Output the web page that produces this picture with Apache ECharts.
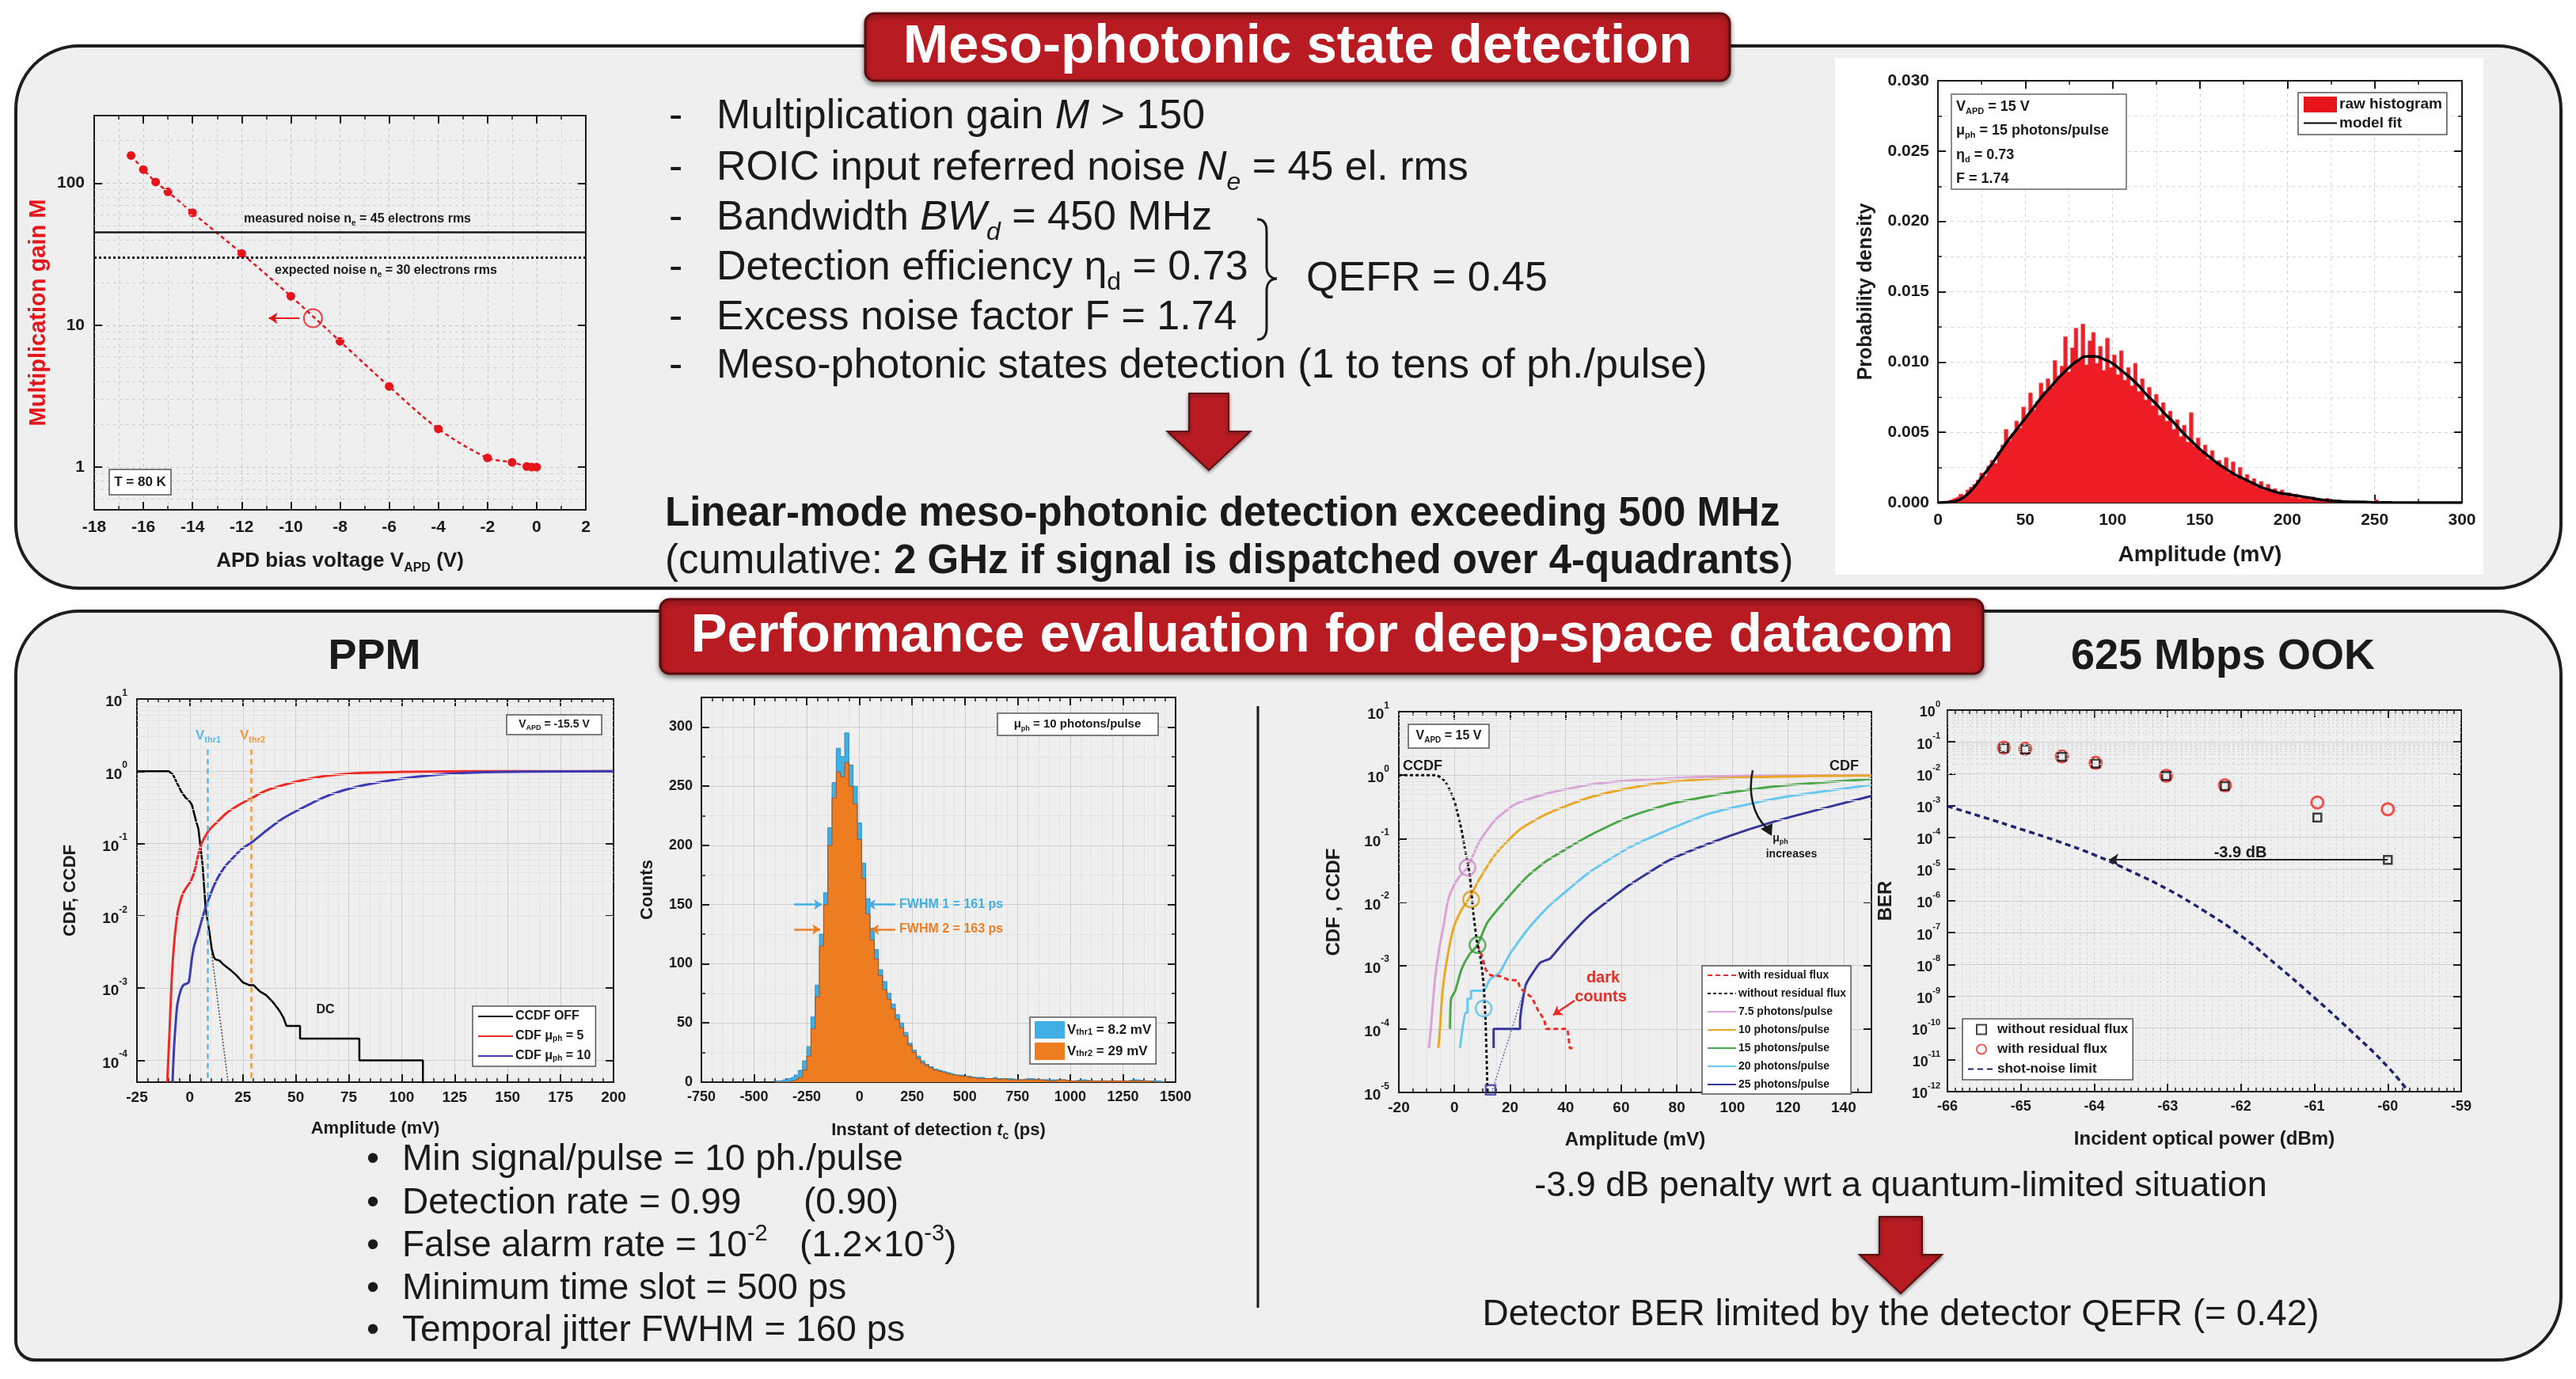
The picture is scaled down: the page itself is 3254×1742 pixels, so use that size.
<!DOCTYPE html>
<html lang="en">
<head>
<meta charset="UTF-8">
<title>Meso-photonic state detection</title>
<script src="https://cdn.jsdelivr.net/npm/echarts@6/dist/echarts.min.js"></script>
<style>html,body{margin:0;padding:0;background:#fff}</style>
</head>
<body>
<div id="main" style="width:3254px;height:1742px"></div>
<script>
// ---- data ----
// gain vs APD bias
var gainV = [-16.5, -16, -15.5, -15, -14, -12, -10, -8, -6, -4, -2, -1, -0.4, -0.2, 0];
var gainM = [157, 125, 102, 87, 62, 32, 16, 7.7, 3.7, 1.86, 1.16, 1.08, 1.01, 1.0, 1.0];
var measuredNoise = 45, expectedNoise = 30;

// amplitude histogram, 2 mV bins starting at 1 mV
var histStart = 1, histBin = 2;
var histY = [
  0, 0, 0.0001, 0.0002, 0.0003,   0.0004, 0.0006, 0.0005, 0.0009, 0.0011,
  0.0013, 0.0016, 0.0021, 0.0019, 0.0026,   0.0030, 0.0028, 0.0036, 0.0041, 0.0052,
  0.0044, 0.0049, 0.0058, 0.0053, 0.0068,   0.0061, 0.0078, 0.0066, 0.0072, 0.0085,
  0.0079, 0.0088, 0.0082, 0.0101, 0.0090,   0.0097, 0.0118, 0.0093, 0.0110, 0.0124,
  0.0102, 0.0127, 0.0098, 0.0115, 0.0121,   0.0099, 0.0111, 0.0094, 0.0117, 0.0096,
  0.0105, 0.0091, 0.0108, 0.0087, 0.0096,   0.0083, 0.0099, 0.0079, 0.0088, 0.0073,
  0.0082, 0.0069, 0.0077, 0.0062, 0.0071,   0.0058, 0.0065, 0.0052, 0.0059, 0.0047,
  0.0055, 0.0043, 0.0064, 0.0040, 0.0046,   0.0036, 0.0041, 0.0031, 0.0037, 0.0028,
  0.0030, 0.0026, 0.0032, 0.0021, 0.0029,   0.0018, 0.0025, 0.0016, 0.0020, 0.0014,
  0.0017, 0.0011, 0.0015, 0.0009, 0.0013,   0.0008, 0.0010, 0.0006, 0.0009, 0.0005,
  0.0007, 0.0004, 0.0006, 0.0003, 0.0004,   0.0003, 0.0002, 0.0004, 0.0002, 0.0002,
  0.0001, 0.0003, 0.0001, 0.0001, 0.0002,   0.0001, 0.0001, 0.00005, 0.0001, 0.00005,
  0.00005, 0.0001, 0.00003, 0.00005, 0,     0.0002, 0.00003, 0, 0, 0
];
var fitX = [0, 5, 10, 15, 20, 25, 30, 35, 40, 45, 50, 55, 60, 65, 70, 75, 80, 85, 90, 95, 100, 105, 110, 115, 120, 125, 130, 135, 140, 145, 150, 155, 160, 165, 170, 175, 180, 185, 190, 195, 200, 205, 210, 215, 220, 230, 240, 250, 260, 300];
var fitY = [0, 0.00003, 0.0001, 0.0004, 0.0010, 0.0018, 0.0026, 0.0035, 0.0044, 0.0052, 0.0060, 0.0068, 0.0076, 0.0083, 0.0090, 0.0096, 0.0101, 0.0104, 0.0104, 0.0102, 0.0099, 0.0094, 0.0089, 0.0083, 0.0076, 0.0070, 0.0063, 0.0057, 0.0050, 0.0044, 0.0038, 0.0033, 0.0028, 0.0024, 0.0020, 0.0017, 0.0014, 0.0011, 0.0009, 0.0007, 0.0006, 0.0005, 0.0004, 0.0003, 0.0002, 0.0001, 0.00005, 0.00002, 0.00001, 0];

// PPM CDF / CCDF
var ppmOffX = [-25, -10, -8, -6, -4, -2, 0, 1, 3, 4, 5, 6, 7.4, 8.5, 9.4, 10.3, 11.3, 12, 14, 16, 19, 22, 25, 28, 30, 33, 36, 39, 42, 44, 45.6, 52, 52, 80, 80, 110, 110];
var ppmOffY = [1, 1, 0.9, 0.68, 0.52, 0.43, 0.38, 0.34, 0.2, 0.16, 0.09, 0.05, 0.013, 0.008, 0.0054, 0.0035, 0.0027, 0.0025, 0.0024, 0.0021, 0.0018, 0.0015, 0.0012, 0.0011, 0.0011, 0.0009, 0.0008, 0.00065, 0.0005, 0.0004, 0.0003, 0.0003, 0.0002, 0.0002, 0.0001, 0.0001, 0.00003];
var ppm5X = [-10.7, -9.5, -8.5, -7.4, -5.9, -4.5, -3.1, -1.1, 0.8, 2.5, 3.6, 5.5, 7.5, 9.3, 13, 17, 23, 29.4, 36, 43.7, 52, 62.7, 72, 81.8, 101, 120, 150, 200];
var ppm5Y = [5e-5, 3e-4, 0.0015, 0.0043, 0.0106, 0.016, 0.021, 0.026, 0.032, 0.045, 0.064, 0.1, 0.13, 0.157, 0.2, 0.26, 0.34, 0.43, 0.54, 0.64, 0.74, 0.85, 0.91, 0.95, 0.98, 0.995, 1, 1];
var ppm10X = [-8.2, -7.5, -6.5, -5.9, -4.5, -3.1, -0.6, 0.8, 2, 3.6, 5.5, 7.4, 9.5, 11.3, 14, 17, 20, 24.6, 29.4, 36, 43.7, 52, 62.7, 72, 81.8, 101, 120, 139, 160, 200];
var ppm10Y = [5e-5, 1.5e-4, 4e-4, 6e-4, 9e-4, 0.0011, 0.0012, 0.0024, 0.0038, 0.0054, 0.0085, 0.013, 0.019, 0.026, 0.037, 0.05, 0.062, 0.085, 0.105, 0.15, 0.22, 0.3, 0.43, 0.54, 0.64, 0.8, 0.91, 0.97, 0.99, 1];
var ppmTailX = [10.3, 18];
var ppmTailY = [0.003, 5e-5];
var vThr1 = 8.2, vThr2 = 29;

// detection-instant histograms (ps)
var cntX = [-400, -380, -360, -340, -320, -300, -280, -260, -240, -220, -200, -180, -160, -140, -120, -100, -80, -60, -40, -20, 0, 20, 40, 60, 80, 100, 120, 140, 160, 180, 200, 220, 240, 260, 280, 300, 320, 340, 360, 380, 400, 420, 440, 460, 480, 500, 520, 540, 560, 580, 600, 620, 640, 660, 680, 700, 750, 800, 850, 900, 950, 1000, 1050, 1100, 1150, 1200, 1250, 1300, 1350, 1400, 1450];
var cntThr1 = [1, 1, 2, 3, 4, 6, 10, 18, 30, 55, 82, 125, 160, 215, 253, 282, 275, 295, 268, 250, 219, 185, 155, 130, 112, 95, 85, 75, 66, 57, 50, 42, 33, 27, 22, 18, 15, 13, 11, 10, 9, 8, 7, 6, 6, 5, 5, 4, 4, 4, 3, 3, 4, 3, 3, 3, 2, 3, 2, 2, 2, 1, 2, 1, 1, 1, 1, 2, 1, 1, 0];
var cntThr2 = [0, 0, 0, 0, 1, 2, 4, 10, 22, 45, 72, 115, 150, 200, 240, 262, 258, 270, 250, 235, 205, 172, 142, 120, 104, 90, 78, 70, 62, 53, 46, 39, 31, 25, 20, 16, 14, 12, 10, 9, 8, 7, 6, 6, 5, 5, 4, 4, 3, 3, 3, 3, 3, 2, 3, 2, 2, 2, 2, 1, 2, 1, 1, 1, 1, 1, 1, 1, 1, 0, 0];

// OOK CDF / CCDF
var ookCcdfX = [-20, -7, -4.5, -2.6, -1, 0.3, 2.5, 3.9, 5.4, 6.1, 6.8, 8.3, 9.3, 10.5, 11.2, 11.9];
var ookCcdfY = [1, 1, 0.9, 0.7, 0.5, 0.35, 0.14, 0.064, 0.029, 0.0146, 0.0067, 0.0021, 0.0014, 0.0005, 0.00013, 1e-5];
var ookResX = [8.3, 9.7, 11.3, 13, 16.3, 19.2, 22.8, 23.6, 25.5, 27.9, 30, 32.3, 33, 40.7, 41.5, 42.5];
var ookResY = [0.0021, 0.0015, 0.00085, 0.0007, 0.00068, 0.0006, 0.00058, 0.00044, 0.00038, 0.00031, 0.0002, 0.00014, 0.0001, 0.0001, 0.00005, 0.00005];
var ook7X = [-9.2, -8.5, -7, -5.5, -4, -2.6, -1.2, 1.7, 4.7, 9, 14.8, 22, 33.7, 48.3, 62.8, 80, 92, 110, 150];
var ook7Y = [5e-5, 1e-4, 6e-4, 0.0018, 0.004, 0.0093, 0.0148, 0.025, 0.035, 0.09, 0.2, 0.35, 0.52, 0.7, 0.82, 0.9, 0.95, 0.98, 1];
var ook10X = [-5.8, -5.2, -4.5, -3.3, -0.4, 2.5, 5.4, 9, 14.8, 23.6, 33.7, 48.3, 62.8, 77.4, 92, 106, 130, 150];
var ook10Y = [5e-5, 1e-4, 3e-4, 8.6e-4, 0.0038, 0.0075, 0.0117, 0.023, 0.057, 0.14, 0.25, 0.44, 0.62, 0.78, 0.87, 0.92, 0.97, 0.98];
var ook15X = [-1.6, -1.2, 0.3, 2.5, 5.4, 8.3, 11.9, 19.2, 26.5, 33.7, 48.3, 62.8, 77.4, 91.9, 106, 121, 150];
var ook15Y = [1e-4, 3e-4, 4e-4, 8.6e-4, 0.0015, 0.0021, 0.0048, 0.0117, 0.026, 0.046, 0.11, 0.22, 0.35, 0.47, 0.59, 0.7, 0.87];
var ook20X = [2, 3.9, 4.7, 4.7, 6, 6, 10.5, 12.7, 16.3, 19.9, 26.5, 33.7, 48.3, 62.8, 77.4, 92, 106, 121, 150];
var ook20Y = [5e-5, 1.8e-4, 1.8e-4, 3e-4, 3e-4, 4e-4, 4e-4, 6e-4, 7.8e-4, 0.0015, 0.0038, 0.0084, 0.029, 0.072, 0.14, 0.25, 0.35, 0.47, 0.7];
var ook25X = [14.1, 14.1, 15, 23.6, 23.6, 25.7, 30.8, 34.5, 39.6, 48.3, 62.8, 77.4, 92, 106, 121, 150];
var ook25Y = [5e-5, 1e-4, 1e-4, 1e-4, 1.3e-4, 5e-4, 0.0011, 0.0013, 0.0024, 0.006, 0.0184, 0.046, 0.085, 0.14, 0.22, 0.47];
var ook25TailX = [13.4, 25.7];
var ook25TailY = [1e-5, 5e-4];
var ookMarkX = [4.7, 6, 8.3, 10.5];
var ookMarkY = [0.035, 0.011, 0.0021, 0.00021];

// BER vs incident power
var berX = [-65.23, -64.94, -64.44, -63.98, -63.02, -62.22, -60.96, -60.0];
var berWith = [0.066, 0.061, 0.035, 0.022, 0.0086, 0.0043, 0.00124, 0.00076];
var berWithout = [0.064, 0.058, 0.034, 0.021, 0.0085, 0.0041, 0.00042, 0.0000195];
var shotX = [-66, -65.5, -65, -64.5, -64, -63.5, -63, -62.5, -62, -61.5, -61, -60.5, -60, -59.72];
var shotY = [9.5e-4, 4.2e-4, 1.8e-4, 7.5e-5, 2.8e-5, 8.5e-6, 2.3e-6, 4.8e-7, 8e-8, 9e-9, 9e-10, 8e-11, 6e-12, 1e-12];
var penaltyBer = 1.95e-5, penaltyFrom = -60, penaltyTo = -63.8;

// ---- helpers ----
var FONT = '"Liberation Sans", Arial, Helvetica, sans-serif';
var INK = '#1a1a1a';
var RED = '#e8141c';
var DARKRED = '#b81c22';

function zip(xs, ys) { return xs.map(function (x, i) { return [x, ys[i]]; }); }
function isDecade(v) { var e = Math.log10(v); return Math.abs(e - Math.round(e)) < 0.02; }
function powLabel(v) { return isDecade(v) ? '{b|10}{s|' + Math.round(Math.log10(v)) + '}' : ''; }
function stepLabel(step) { return function (v) { return Math.abs(v % step) < 1e-9 ? String(v) : ''; }; }
function powRich(size) {
  return {
    b: { fontSize: size, fontWeight: 'bold', fontFamily: FONT, color: INK, lineHeight: Math.round(size * 1.4), verticalAlign: 'bottom' },
    s: { fontSize: Math.round(size * 0.62), fontWeight: 'bold', fontFamily: FONT, color: INK, lineHeight: Math.round(size * 0.7), verticalAlign: 'top' }
  };
}
function nameRich(size, color) {
  return {
    sub: { fontSize: Math.round(size * 0.62), fontWeight: 'bold', fontFamily: FONT, color: color || INK, verticalAlign: 'bottom', lineHeight: Math.round(size * 0.9) },
    i: { fontSize: size, fontStyle: 'italic', fontWeight: 'bold', fontFamily: FONT, color: color || INK, lineHeight: Math.round(size * 1.3) }
  };
}

var xAxes = [], yAxes = [];
function axisPair(list, o) {
  var horiz = o.pos === 'bottom' || o.pos === 'top';
  var opp = { bottom: 'top', top: 'bottom', left: 'right', right: 'left' }[o.pos];
  var base = { gridIndex: o.grid, type: o.type || 'value', min: o.min, max: o.max };
  if (o.interval) base.interval = o.interval;
  var tick = { show: true, inside: true, length: 10, lineStyle: { color: INK, width: 2 } };
  var minorTick = { show: !!o.minor, splitNumber: o.minor || 5, length: 5, lineStyle: { color: INK, width: 1.5 } };
  var line = { show: true, onZero: false, lineStyle: { color: INK, width: 2 } };
  var main = Object.assign({}, base, {
    position: o.pos, axisLine: line, axisTick: tick, minorTick: minorTick,
    axisLabel: { show: true, margin: o.margin || 10, formatter: o.fmt, color: INK, fontFamily: FONT, fontWeight: 'bold', fontSize: o.size || 19, rich: o.rich },
    splitLine: { show: true, lineStyle: { color: o.gridColor || '#cdcdcd', width: 1, type: o.dash || 'solid' } },
    minorSplitLine: { show: !!o.minor, lineStyle: { color: o.minorColor || '#e2e2e2', width: 1, type: o.dash || 'solid' } },
    name: o.name, nameLocation: 'middle', nameGap: o.nameGap, nameRotate: horiz ? 0 : 90,
    nameTextStyle: { color: o.nameColor || INK, fontFamily: FONT, fontWeight: 'bold', fontSize: o.nameSize || 24,
      lineHeight: Math.round((o.nameSize || 24) * 1.3), rich: nameRich(o.nameSize || 24, o.nameColor) }
  });
  var mirror = Object.assign({}, base, {
    position: opp, axisLine: line, axisTick: tick, minorTick: minorTick,
    axisLabel: { show: false }, splitLine: { show: false }, minorSplitLine: { show: false }
  });
  list.push(main, mirror);
  return list.length - 2;
}

// light minor grid lines at 2..9 x 10^n for log axes
function logGrid(xi, yi, lo, hi, x0, color, dash) {
  var lines = [];
  for (var e = Math.floor(Math.log10(lo)); e <= Math.ceil(Math.log10(hi)); e++) {
    for (var k = 2; k <= 9; k++) {
      var v = k * Math.pow(10, e);
      if (v > lo * 1.001 && v < hi * 0.999) lines.push({ yAxis: v });
    }
  }
  return {
    type: 'line', xAxisIndex: xi, yAxisIndex: yi, data: [[x0, lo * 1.5]], symbol: 'none', z: 0,
    lineStyle: { opacity: 0 }, silent: true,
    markLine: { silent: true, symbol: 'none', label: { show: false }, lineStyle: { color: color, width: 1, type: dash || 'solid' }, data: lines }
  };
}

// ---- grids ----
var grids = [
  { left: 119, top: 146, width: 621, height: 498 },
  { left: 2448, top: 102, width: 662, height: 533 },
  { left: 173, top: 883, width: 602, height: 484 },
  { left: 886, top: 881, width: 599, height: 486 },
  { left: 1767, top: 899, width: 597, height: 481 },
  { left: 2460, top: 897, width: 649, height: 482 }
].map(function (g) { return Object.assign({ show: true, borderColor: INK, borderWidth: 2, backgroundColor: 'transparent' }, g); });

// gain
var gx = axisPair(xAxes, { grid: 0, min: -18, max: 2, interval: 2, minor: 2, pos: 'bottom', size: 21, margin: 12, dash: [4, 4], gridColor: '#c4c4c4', minorColor: '#d0d0d0',
  name: 'APD bias voltage V{sub|APD} (V)', nameGap: 48, nameSize: 26 });
var gy = axisPair(yAxes, { grid: 0, type: 'log', min: 0.5, max: 300, pos: 'left', size: 21, margin: 12, dash: [4, 4], gridColor: '#c4c4c4',
  fmt: function (v) { return isDecade(v) ? String(Math.round(v)) : ''; },
  name: 'Multiplication gain M', nameGap: 50, nameSize: 29, nameColor: RED });
// histogram
var hx = axisPair(xAxes, { grid: 1, min: 0, max: 300, interval: 50, minor: 2, pos: 'bottom', size: 21, margin: 12, dash: [4, 4], gridColor: '#d2d2d2', minorColor: '#dddddd',
  name: 'Amplitude (mV)', nameGap: 48, nameSize: 28 });
var hy = axisPair(yAxes, { grid: 1, min: 0, max: 0.03, interval: 0.005, minor: 2, pos: 'left', size: 21, margin: 11, dash: [4, 4], gridColor: '#d2d2d2', minorColor: '#dddddd',
  fmt: function (v) { return v.toFixed(3); }, name: 'Probability density', nameGap: 74, nameSize: 25 });
// PPM
var px = axisPair(xAxes, { grid: 2, min: -25, max: 200, interval: 25, minor: 5, pos: 'bottom', size: 19, margin: 10,
  name: 'Amplitude (mV)', nameGap: 44, nameSize: 22 });
var py = axisPair(yAxes, { grid: 2, type: 'log', min: 5e-5, max: 10, pos: 'left', size: 19, margin: 12, fmt: powLabel, rich: powRich(19),
  name: 'CDF, CCDF', nameGap: 70, nameSize: 22 });
// counts
var cx = axisPair(xAxes, { grid: 3, min: -750, max: 1500, interval: 250, minor: 5, pos: 'bottom', size: 18, margin: 10, fmt: stepLabel(250),
  name: 'Instant of detection {i|t}{sub|c} (ps)', nameGap: 46, nameSize: 22 });
var cy = axisPair(yAxes, { grid: 3, min: 0, max: 325, interval: 50, minor: 2, pos: 'left', size: 18, margin: 11, fmt: stepLabel(50),
  name: 'Counts', nameGap: 54, nameSize: 22 });
// OOK CDF
var ox = axisPair(xAxes, { grid: 4, min: -20, max: 150, interval: 20, minor: 4, pos: 'bottom', size: 19, margin: 10, fmt: stepLabel(20),
  name: 'Amplitude (mV)', nameGap: 45, nameSize: 24 });
var oy = axisPair(yAxes, { grid: 4, type: 'log', min: 1e-5, max: 10, pos: 'left', size: 19, margin: 12, fmt: powLabel, rich: powRich(19),
  name: 'CDF , CCDF', nameGap: 66, nameSize: 24 });
// BER
var bx = axisPair(xAxes, { grid: 5, min: -66, max: -59, interval: 1, minor: 10, pos: 'bottom', size: 18, margin: 10, dash: [3, 3], minorColor: '#d6d6d6',
  name: 'Incident optical power (dBm)', nameGap: 45, nameSize: 24 });
var by = axisPair(yAxes, { grid: 5, type: 'log', min: 1e-12, max: 1, interval: 1, pos: 'left', size: 18, margin: 9, fmt: powLabel, rich: powRich(18),
  name: 'BER', nameGap: 62, nameSize: 24 });

// ---- legends ----
var LABELS = {
  rawHist: 'raw histogram', fit: 'model fit',
  ppmOff: 'CCDF OFF', ppm5: 'CDF μ{sub|ph} = 5', ppm10: 'CDF μ{sub|ph} = 10',
  cnt1: 'V{sub|thr1} = 8.2 mV', cnt2: 'V{sub|thr2} = 29 mV',
  ookRes: 'with residual flux', ookNoRes: 'without residual flux',
  ook7: '7.5 photons/pulse', ook10: '10 photons/pulse', ook15: '15 photons/pulse', ook20: '20 photons/pulse', ook25: '25 photons/pulse',
  berNo: 'without residual flux', berWith: 'with residual flux', shot: 'shot-noise limit'
};
// legend entry drawn as a plain line (hide the default symbol of line series)
function lineItem(n) { return { name: n, itemStyle: { opacity: 0 } }; }
function legendBox(left, top, names, size, iw, ih, gap) {
  return {
    left: left, top: top, orient: 'vertical', selectedMode: false, data: names,
    itemWidth: iw, itemHeight: ih, itemGap: gap, padding: [5, 6, 5, 6],
    backgroundColor: '#ffffff', borderColor: '#555', borderWidth: 1.5, borderRadius: 0,
    formatter: function (n) { return LABELS[n] || n; },
    textStyle: { color: INK, fontFamily: FONT, fontWeight: 'bold', fontSize: size, padding: [0, 0, 0, -2],
      rich: { sub: { fontSize: Math.round(size * 0.62), fontWeight: 'bold', fontFamily: FONT, color: INK, verticalAlign: 'bottom', lineHeight: Math.round(size * 0.9) } } }
  };
}
var legends = [
  legendBox(2903, 117, [{ name: 'rawHist', icon: 'rect', itemStyle: { color: RED } }, lineItem('fit')], 19, 42, 20, 4),
  legendBox(597, 1271, ['ppmOff', 'ppm5', 'ppm10'].map(lineItem), 16, 44, 14, 9),
  legendBox(1301, 1285, [{ name: 'cnt1', icon: 'rect' }, { name: 'cnt2', icon: 'rect' }], 17, 38, 22, 5),
  legendBox(2150, 1220, ['ookRes', 'ookNoRes', 'ook7', 'ook10', 'ook15', 'ook20', 'ook25'].map(lineItem), 14, 36, 10, 9),
  legendBox(2479, 1287, [{ name: 'berNo', icon: 'path://M0,0L10,0L10,10L0,10Z' }, { name: 'berWith', icon: 'circle' }, lineItem('shot')], 17, 34, 12, 8)
];

// ---- series ----
var histData = histY.map(function (v, i) { return [histStart + i * histBin, v]; });

var series = [
  // gain chart
  logGrid(gx, gy, 0.5, 300, -17.5, '#cfcfcf', [4, 4]),
  {
    name: 'gain', type: 'line', xAxisIndex: gx, yAxisIndex: gy, data: zip(gainV, gainM), smooth: 0.3,
    symbol: 'circle', symbolSize: 11, itemStyle: { color: RED }, lineStyle: { color: RED, width: 2.5, type: [5, 4] },
    markLine: {
      silent: true, symbol: 'none', label: { show: false },
      data: [
        { yAxis: measuredNoise, lineStyle: { color: INK, width: 2.5, type: 'solid' } },
        { yAxis: expectedNoise, lineStyle: { color: INK, width: 3, type: [3, 3] } },
        [{ coord: [-9.65, 11.2], symbol: 'none', lineStyle: { color: RED, width: 2, type: 'solid' } }, { coord: [-10.9, 11.2], symbol: 'arrow', symbolSize: 11 }]
      ]
    }
  },
  { name: 'gainMark', type: 'scatter', xAxisIndex: gx, yAxisIndex: gy, data: [[-9.1, 11.2]], symbol: 'circle', symbolSize: 23,
    itemStyle: { color: 'rgba(0,0,0,0)', borderColor: RED, borderWidth: 2 }, z: 4 },

  // amplitude histogram
  { name: 'rawHist', type: 'line', xAxisIndex: hx, yAxisIndex: hy, data: histData, step: 'middle', symbol: 'none',
    lineStyle: { color: '#f04a50', width: 1 }, areaStyle: { color: '#ee1c24', opacity: 1 }, itemStyle: { color: RED } },
  { name: 'fit', type: 'line', xAxisIndex: hx, yAxisIndex: hy, data: zip(fitX, fitY), smooth: true, symbol: 'none',
    lineStyle: { color: '#000', width: 3.5 }, itemStyle: { color: '#000' } },

  // PPM
  logGrid(px, py, 5e-5, 10, 150, '#e3e3e3'),
  { name: 'ppmOff', type: 'line', xAxisIndex: px, yAxisIndex: py, data: zip(ppmOffX, ppmOffY), symbol: 'none',
    lineStyle: { color: '#000', width: 2.5 }, itemStyle: { color: '#000' } },
  { name: 'ppmTail', type: 'line', xAxisIndex: px, yAxisIndex: py, data: zip(ppmTailX, ppmTailY), symbol: 'none',
    lineStyle: { color: '#444', width: 1.5, type: [2, 2] } },
  { name: 'ppm5', type: 'line', xAxisIndex: px, yAxisIndex: py, data: zip(ppm5X, ppm5Y), smooth: 0.2, symbol: 'none',
    lineStyle: { color: '#ee2a24', width: 3 }, itemStyle: { color: '#ee2a24' } },
  { name: 'ppm10', type: 'line', xAxisIndex: px, yAxisIndex: py, data: zip(ppm10X, ppm10Y), smooth: 0.2, symbol: 'none',
    lineStyle: { color: '#3b3bb5', width: 3 }, itemStyle: { color: '#3b3bb5' },
    markLine: {
      silent: true, symbol: 'none', label: { show: false },
      data: [
        [{ coord: [vThr1, 2], lineStyle: { color: '#5cb8e6', width: 2.5, type: [7, 5] } }, { coord: [vThr1, 5e-5] }],
        [{ coord: [vThr2, 2], lineStyle: { color: '#f39a3c', width: 2.5, type: [7, 5] } }, { coord: [vThr2, 5e-5] }]
      ]
    } },

  // counts
  { name: 'cnt1', type: 'line', xAxisIndex: cx, yAxisIndex: cy, data: zip(cntX, cntThr1), step: 'middle', symbol: 'none',
    lineStyle: { color: '#2f8fc4', width: 1 }, areaStyle: { color: '#41aee4', opacity: 1 }, itemStyle: { color: '#41aee4' } },
  { name: 'cnt2', type: 'line', xAxisIndex: cx, yAxisIndex: cy, data: zip(cntX, cntThr2), step: 'middle', symbol: 'none',
    lineStyle: { color: '#a9521a', width: 1 }, areaStyle: { color: '#ee7d22', opacity: 1 }, itemStyle: { color: '#ee7d22' },
    markLine: {
      silent: true, symbol: 'none', label: { show: false },
      data: [
        [{ coord: [-310, 150], lineStyle: { color: '#41aee4', width: 2.5, type: 'solid' } }, { coord: [-178, 150], symbol: 'arrow', symbolSize: 10 }],
        [{ coord: [170, 150], lineStyle: { color: '#41aee4', width: 2.5, type: 'solid' } }, { coord: [38, 150], symbol: 'arrow', symbolSize: 10 }],
        [{ coord: [-310, 129], lineStyle: { color: '#ee7d22', width: 2.5, type: 'solid' } }, { coord: [-186, 129], symbol: 'arrow', symbolSize: 10 }],
        [{ coord: [170, 129], lineStyle: { color: '#ee7d22', width: 2.5, type: 'solid' } }, { coord: [55, 129], symbol: 'arrow', symbolSize: 10 }]
      ]
    } },

  // OOK CDF
  logGrid(ox, oy, 1e-5, 10, 100, '#e3e3e3'),
  { name: 'ook7', type: 'line', xAxisIndex: ox, yAxisIndex: oy, data: zip(ook7X, ook7Y), smooth: 0.2, symbol: 'none', lineStyle: { color: '#d9a3d6', width: 3 }, itemStyle: { color: '#d9a3d6' } },
  { name: 'ook10', type: 'line', xAxisIndex: ox, yAxisIndex: oy, data: zip(ook10X, ook10Y), smooth: 0.2, symbol: 'none', lineStyle: { color: '#e9a825', width: 3 }, itemStyle: { color: '#e9a825' } },
  { name: 'ook15', type: 'line', xAxisIndex: ox, yAxisIndex: oy, data: zip(ook15X, ook15Y), smooth: 0.2, symbol: 'none', lineStyle: { color: '#4aa84a', width: 3 }, itemStyle: { color: '#4aa84a' } },
  { name: 'ook20', type: 'line', xAxisIndex: ox, yAxisIndex: oy, data: zip(ook20X, ook20Y), smooth: 0.15, symbol: 'none', lineStyle: { color: '#68c8f0', width: 3 }, itemStyle: { color: '#68c8f0' } },
  { name: 'ook25', type: 'line', xAxisIndex: ox, yAxisIndex: oy, data: zip(ook25X, ook25Y), smooth: 0.15, symbol: 'none', lineStyle: { color: '#35369a', width: 3 }, itemStyle: { color: '#35369a' } },
  { name: 'ook25Tail', type: 'line', xAxisIndex: ox, yAxisIndex: oy, data: zip(ook25TailX, ook25TailY), symbol: 'none', lineStyle: { color: '#6a6ab8', width: 1.5, type: [2, 2] } },
  { name: 'ookRes', type: 'line', xAxisIndex: ox, yAxisIndex: oy, data: zip(ookResX, ookResY), symbol: 'none', lineStyle: { color: '#ee2a24', width: 3, type: [6, 4] }, itemStyle: { color: '#ee2a24' },
    markLine: {
      silent: true, symbol: 'none', label: { show: false },
      data: [[{ coord: [43.2, 2.8e-4], lineStyle: { color: '#ee2a24', width: 2.5, type: 'solid' } }, { coord: [35.5, 1.66e-4], symbol: 'arrow', symbolSize: 11 }]]
    } },
  { name: 'ookNoRes', type: 'line', xAxisIndex: ox, yAxisIndex: oy, data: zip(ookCcdfX, ookCcdfY), smooth: 0.2, symbol: 'none', lineStyle: { color: '#111', width: 3, type: [4, 3] }, itemStyle: { color: '#111' } },
  { name: 'ookMarks', type: 'scatter', xAxisIndex: ox, yAxisIndex: oy, symbol: 'circle', symbolSize: 20, z: 5,
    data: ookMarkX.map(function (x, i) {
      return { value: [x, ookMarkY[i]], itemStyle: { color: 'rgba(0,0,0,0)', borderWidth: 2.5, borderColor: ['#c98ac6', '#d99a10', '#3f9a3f', '#5bbde8'][i] } };
    }) },
  { name: 'ookEnd', type: 'scatter', xAxisIndex: ox, yAxisIndex: oy, symbol: 'rect', symbolSize: 12, z: 5, data: [[13, 1.1e-5]],
    itemStyle: { color: 'rgba(0,0,0,0)', borderColor: '#35369a', borderWidth: 2.5 } },

  // BER
  logGrid(bx, by, 1e-12, 1, -65.9, '#d4d4d4', [3, 3]),
  { name: 'shot', type: 'line', xAxisIndex: bx, yAxisIndex: by, data: zip(shotX, shotY), smooth: true, symbol: 'none',
    lineStyle: { color: '#1d2470', width: 3.5, type: [7, 5] }, itemStyle: { color: '#1d2470' },
    markLine: {
      silent: true, symbol: 'none', label: { show: false },
      data: [[{ coord: [penaltyFrom, penaltyBer], lineStyle: { color: '#222', width: 2, type: 'solid' } }, { coord: [penaltyTo, penaltyBer], symbol: 'arrow', symbolSize: 12 }]]
    } },
  { name: 'berWith', type: 'scatter', xAxisIndex: bx, yAxisIndex: by, data: zip(berX, berWith), symbol: 'circle', symbolSize: 15,
    itemStyle: { color: 'rgba(0,0,0,0)', borderColor: '#ee2a24', borderWidth: 3 } },
  { name: 'berNo', type: 'scatter', xAxisIndex: bx, yAxisIndex: by, data: zip(berX, berWithout), symbol: 'rect', symbolSize: 10,
    itemStyle: { color: 'rgba(0,0,0,0)', borderColor: '#111', borderWidth: 2.5 } }
];

// ---- graphic (frames, banners, text) ----
function richFor(size, w, fill) {
  return {
    sub: { fontSize: Math.round(size * 0.62), fontWeight: w, fill: fill, fontFamily: FONT, verticalAlign: 'bottom', lineHeight: Math.round(size * 0.9) },
    isub: { fontSize: Math.round(size * 0.62), fontStyle: 'italic', fontWeight: w, fill: fill, fontFamily: FONT, verticalAlign: 'bottom', lineHeight: Math.round(size * 0.9) },
    sup: { fontSize: Math.round(size * 0.62), fontWeight: w, fill: fill, fontFamily: FONT, verticalAlign: 'top', lineHeight: Math.round(size * 0.7) },
    i: { fontSize: size, fontStyle: 'italic', fontWeight: w, fill: fill, fontFamily: FONT, lineHeight: Math.round(size * 1.3) },
    b: { fontSize: size, fontWeight: 'bold', fill: fill, fontFamily: FONT, lineHeight: Math.round(size * 1.3) }
  };
}
function T(x, y, s, o) {
  o = o || {};
  var size = o.size || 42, fill = o.fill || INK, w = o.weight || 'normal';
  return { type: 'text', z: 100, silent: true, style: {
    x: x, y: y, text: s, fill: fill, fontFamily: FONT, fontSize: size, fontWeight: w,
    align: o.align || 'left', verticalAlign: 'middle', lineHeight: Math.round(size * 1.3), rich: richFor(size, w, fill) } };
}
function box(x, y, w, h, o) {
  o = o || {};
  return { type: 'rect', z: o.z || 90, silent: true, shape: { x: x, y: y, width: w, height: h, r: o.r || 0 },
    style: { fill: o.fill || '#ffffff', stroke: o.stroke || '#555', lineWidth: o.lw || 1.5,
      shadowBlur: o.shadow ? 6 : 0, shadowColor: 'rgba(0,0,0,0.45)', shadowOffsetY: o.shadow ? 3 : 0 } };
}
function downArrow(cx, top, mid, bottom, shaftW, headW) {
  return { type: 'polygon', z: 60, silent: true,
    shape: { points: [[cx - shaftW / 2, top], [cx + shaftW / 2, top], [cx + shaftW / 2, mid], [cx + headW / 2, mid], [cx, bottom], [cx - headW / 2, mid], [cx - shaftW / 2, mid]] },
    style: { fill: DARKRED, stroke: '#5c0c0e', lineWidth: 2, shadowBlur: 4, shadowColor: 'rgba(0,0,0,0.4)', shadowOffsetY: 2 } };
}
function seg(x1, y1, x2, y2, color, lw) {
  return { type: 'line', z: 95, silent: true, shape: { x1: x1, y1: y1, x2: x2, y2: y2 }, style: { stroke: color || INK, lineWidth: lw || 3 } };
}
function curve(x1, y1, c1x, c1y, c2x, c2y, x2, y2, color, lw) {
  return { type: 'bezierCurve', z: 95, silent: true, shape: { x1: x1, y1: y1, x2: x2, y2: y2, cpx1: c1x, cpy1: c1y, cpx2: c2x, cpy2: c2y },
    style: { stroke: color || INK, lineWidth: lw || 3, fill: null } };
}

var graphics = [
  box(20, 58, 3215, 685, { r: 80, fill: '#efefef', stroke: '#1e1e1e', lw: 4, z: -10 }),
  box(20, 772, 3215, 946, { r: [80, 80, 80, 24], fill: '#efefef', stroke: '#1e1e1e', lw: 4, z: -10 }),
  box(2318, 73, 819, 653, { fill: '#ffffff', stroke: 'rgba(0,0,0,0)', lw: 0, z: -9 }),

  box(1093, 17, 1092, 85, { r: 12, fill: DARKRED, stroke: '#5c0c0e', lw: 3, shadow: true, z: 80 }),
  T(1639, 60, 'Meso-photonic state detection', { size: 69, weight: 'bold', fill: '#ffffff', align: 'center' }),
  box(834, 757, 1671, 94, { r: 12, fill: DARKRED, stroke: '#5c0c0e', lw: 3, shadow: true, z: 80 }),
  T(1670, 804, 'Performance evaluation for deep-space datacom', { size: 69, weight: 'bold', fill: '#ffffff', align: 'center' }),

  // top bullet list
  T(845, 148, '-', { size: 52 }), T(905, 148, 'Multiplication gain {i|M} > 150', { size: 52 }),
  T(845, 213, '-', { size: 52 }), T(905, 213, 'ROIC input referred noise {i|N}{isub|e} = 45 el. rms', { size: 52 }),
  T(845, 276, '-', { size: 52 }), T(905, 276, 'Bandwidth {i|BW}{isub|d} = 450 MHz', { size: 52 }),
  T(845, 339, '-', { size: 52 }), T(905, 339, 'Detection efficiency η{sub|d} = 0.73', { size: 52 }),
  T(845, 402, '-', { size: 52 }), T(905, 402, 'Excess noise factor F = 1.74', { size: 52 }),
  T(845, 463, '-', { size: 52 }), T(905, 463, 'Meso-photonic states detection (1 to tens of ph./pulse)', { size: 52 }),
  curve(1588, 277, 1597, 277, 1600, 283, 1600, 292, INK, 3),
  seg(1600, 292, 1600, 337, INK, 3),
  curve(1600, 337, 1600, 346, 1605, 352, 1613, 352, INK, 3),
  curve(1613, 352, 1605, 352, 1600, 358, 1600, 367, INK, 3),
  seg(1600, 367, 1600, 414, INK, 3),
  curve(1600, 414, 1600, 423, 1597, 429, 1588, 429, INK, 3),
  T(1650, 353, 'QEFR = 0.45', { size: 52 }),
  downArrow(1527, 497, 545, 594, 50, 105),
  T(840, 650, 'Linear-mode meso-photonic detection exceeding 500 MHz', { size: 51, weight: 'bold' }),
  T(840, 710, '(cumulative: {b|2 GHz if signal is dispatched over 4-quadrants})', { size: 51 }),

  // gain chart annotations
  T(308, 277, 'measured noise n{sub|e} = 45 electrons rms', { size: 16, weight: 'bold' }),
  T(347, 342, 'expected noise n{sub|e} = 30 electrons rms', { size: 16, weight: 'bold' }),
  box(138, 593, 78, 32, { fill: '#ffffff', stroke: '#555' }),
  T(177, 609, 'T = 80 K', { size: 17, weight: 'bold', align: 'center' }),

  // histogram annotations
  box(2465, 119, 221, 120, { fill: '#ffffff', stroke: '#666' }),
  T(2471, 135, 'V{sub|APD} = 15 V', { size: 18, weight: 'bold' }),
  T(2471, 165, 'μ{sub|ph} = 15 photons/pulse', { size: 18, weight: 'bold' }),
  T(2471, 196, 'η{sub|d} = 0.73', { size: 18, weight: 'bold' }),
  T(2471, 226, 'F = 1.74', { size: 18, weight: 'bold' }),

  // PPM panel
  T(473, 830, 'PPM', { size: 54, weight: 'bold', align: 'center' }),
  box(640, 903, 120, 25, { fill: '#ffffff', stroke: '#555' }),
  T(700, 915, 'V{sub|APD} = -15.5 V', { size: 14, weight: 'bold', align: 'center' }),
  T(263, 929, 'V{sub|thr1}', { size: 17, weight: 'bold', align: 'center', fill: '#5cb8e6' }),
  T(319, 929, 'V{sub|thr2}', { size: 17, weight: 'bold', align: 'center', fill: '#f39a3c' }),
  T(411, 1276, 'DC', { size: 16, weight: 'bold', align: 'center' }),

  // counts panel
  box(1260, 901, 203, 28, { fill: '#ffffff', stroke: '#555' }),
  T(1361, 915, 'μ{sub|ph} = 10 photons/pulse', { size: 15, weight: 'bold', align: 'center' }),
  T(1136, 1143, 'FWHM 1 = 161 ps', { size: 16, weight: 'bold', fill: '#41aee4' }),
  T(1136, 1174, 'FWHM 2 = 163 ps', { size: 16, weight: 'bold', fill: '#ee7d22' }),

  // OOK panel
  T(2808, 830, '625 Mbps OOK', { size: 54, weight: 'bold', align: 'center' }),
  box(1779, 915, 102, 30, { fill: '#ffffff', stroke: '#555' }),
  T(1830, 930, 'V{sub|APD} = 15 V', { size: 16, weight: 'bold', align: 'center' }),
  T(1772, 968, 'CCDF', { size: 18, weight: 'bold' }),
  T(2311, 968, 'CDF', { size: 18, weight: 'bold' }),
  T(2249, 1059, 'μ{sub|ph}', { size: 14, weight: 'bold', align: 'center' }),
  T(2263, 1079, 'increases', { size: 14, weight: 'bold', align: 'center' }),
  curve(2214, 973, 2208, 1000, 2214, 1030, 2232, 1046, INK, 2.5),
  { type: 'polygon', z: 95, silent: true, shape: { points: [[2224, 1047], [2239, 1040], [2238, 1056]] }, style: { fill: INK } },
  T(2025, 1235, 'dark', { size: 20, weight: 'bold', align: 'center', fill: '#ee2a24' }),
  T(2022, 1259, 'counts', { size: 20, weight: 'bold', align: 'center', fill: '#ee2a24' }),

  // BER panel
  T(2830, 1077, '-3.9 dB', { size: 20, weight: 'bold', align: 'center' }),

  // separator and lower texts
  seg(1589, 892, 1589, 1652, INK, 3),
  T(463, 1465, '•', { size: 46 }), T(508, 1465, 'Min signal/pulse = 10 ph./pulse', { size: 46 }),
  T(463, 1520, '•', { size: 46 }), T(508, 1520, 'Detection rate = 0.99', { size: 46 }), T(1015, 1520, '(0.90)', { size: 46 }),
  T(463, 1574, '•', { size: 46 }), T(508, 1574, 'False alarm rate = 10{sup|-2}', { size: 46 }), T(1010, 1574, '(1.2×10{sup|-3})', { size: 46 }),
  T(463, 1628, '•', { size: 46 }), T(508, 1628, 'Minimum time slot = 500 ps', { size: 46 }),
  T(463, 1681, '•', { size: 46 }), T(508, 1681, 'Temporal jitter FWHM = 160 ps', { size: 46 }),
  T(2401, 1499, '-3.9 dB penalty wrt a quantum-limited situation', { size: 45, align: 'center' }),
  downArrow(2401, 1537, 1585, 1634, 54, 104),
  T(2401, 1661, 'Detector BER limited by the detector QEFR (= 0.42)', { size: 46, align: 'center' })
];

var chart = echarts.init(document.getElementById('main'), null, { renderer: 'canvas' });
chart.setOption({
  animation: false,
  backgroundColor: '#ffffff',
  textStyle: { fontFamily: FONT },
  grid: grids,
  xAxis: xAxes,
  yAxis: yAxes,
  legend: legends,
  series: series,
  graphic: { elements: graphics }
});
</script>
</body>
</html>
